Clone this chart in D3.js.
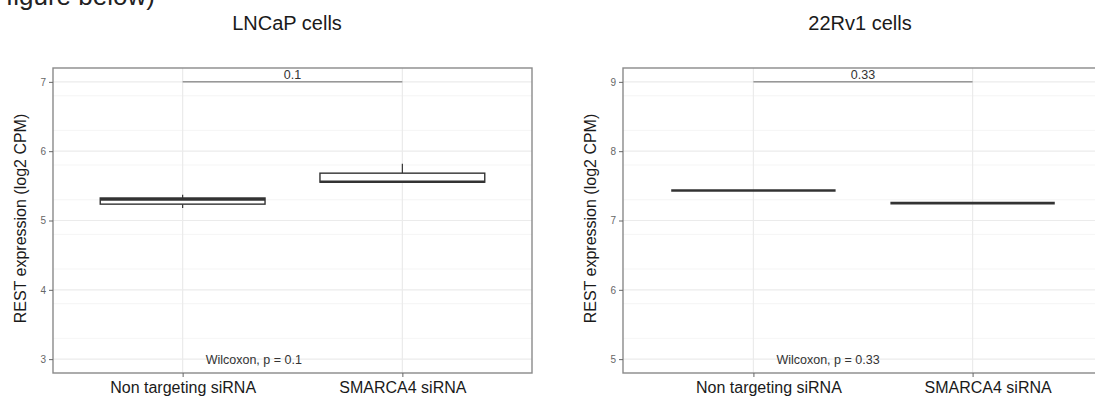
<!DOCTYPE html>
<html>
<head>
<meta charset="utf-8">
<script src="https://cdn.jsdelivr.net/npm/d3@7"></script>
<style>
  body { margin: 0; background: #fff; }
  svg { font-family: "Liberation Sans", Arial, sans-serif; }
</style>
</head>
<body>
<svg width="1095" height="408"></svg>
<script>
// groups on the x axis
const groups = ['Non targeting siRNA', 'SMARCA4 siRNA'];

// LNCaP box stats (log2 CPM)
const lncapMin = [5.18, 5.553];
const lncapQ1 = [5.236, 5.553];
const lncapMedian = [5.305, 5.56];
const lncapQ3 = [5.325, 5.683];
const lncapMax = [5.37, 5.817];

// 22Rv1 box stats (collapsed boxes)
const rvMin = [7.432, 7.25];
const rvQ1 = [7.432, 7.25];
const rvMedian = [7.432, 7.25];
const rvQ3 = [7.432, 7.25];
const rvMax = [7.432, 7.25];

const lncapTicks = [3, 4, 5, 6, 7];
const rvTicks = [5, 6, 7, 8, 9];

const svg = d3.select('svg');

// bit of document text cut off at the top
svg.append('text')
  .text('figure below)')
  .attr('x', 6)
  .attr('y', 5)
  .attr('font-size', 26)
  .attr('fill', '#222');

const drawPanel = (p) => {
  const top = 68, bottom = 373;
  const y = d3.scaleLinear().domain(p.yDomain).range([bottom, top]);
  const x = d3.scalePoint().domain(groups).range([p.left, p.right]).padding(p.pad);

  const g = svg.append('g');

  // grid: minor then major
  const minor = d3.range(p.yDomain[0], p.yDomain[1], 0.5)
    .filter(v => Math.abs(v % 1) > 0.01);
  g.selectAll('.minor').data(minor).enter().append('line')
    .attr('x1', p.left).attr('x2', p.right)
    .attr('y1', d => y(d)).attr('y2', d => y(d))
    .attr('stroke', '#f2f2f2').attr('stroke-width', 0.8);
  g.selectAll('.major').data(p.ticks).enter().append('line')
    .attr('x1', p.left).attr('x2', p.right)
    .attr('y1', d => y(d)).attr('y2', d => y(d))
    .attr('stroke', '#ebebeb').attr('stroke-width', 1.2);
  g.selectAll('.vgrid').data(groups).enter().append('line')
    .attr('x1', d => x(d)).attr('x2', d => x(d))
    .attr('y1', top).attr('y2', bottom)
    .attr('stroke', '#ebebeb').attr('stroke-width', 1.2);

  // boxes
  const boxW = x.step() * 0.75;
  const stats = groups.map((k, i) => ({
    k, min: p.min[i], q1: p.q1[i], med: p.med[i], q3: p.q3[i], max: p.max[i]
  }));
  const b = g.selectAll('.box').data(stats).enter().append('g');
  b.append('line')
    .attr('x1', d => x(d.k)).attr('x2', d => x(d.k))
    .attr('y1', d => y(d.max)).attr('y2', d => y(d.q3))
    .attr('stroke', '#333').attr('stroke-width', 1.2);
  b.append('line')
    .attr('x1', d => x(d.k)).attr('x2', d => x(d.k))
    .attr('y1', d => y(d.q1)).attr('y2', d => y(d.min))
    .attr('stroke', '#333').attr('stroke-width', 1.2);
  b.append('rect')
    .attr('x', d => x(d.k) - boxW / 2)
    .attr('width', boxW)
    .attr('y', d => y(d.q3))
    .attr('height', d => y(d.q1) - y(d.q3))
    .attr('fill', '#fff')
    .attr('stroke', '#333').attr('stroke-width', 1.4);
  b.append('line')
    .attr('x1', d => x(d.k) - boxW / 2).attr('x2', d => x(d.k) + boxW / 2)
    .attr('y1', d => y(d.med)).attr('y2', d => y(d.med))
    .attr('stroke', '#333').attr('stroke-width', 2.6);

  // comparison bracket
  const by = y(p.bracketY);
  g.append('line')
    .attr('x1', x(groups[0])).attr('x2', x(groups[1]))
    .attr('y1', by).attr('y2', by)
    .attr('stroke', '#666').attr('stroke-width', 1);
  g.append('text')
    .text(p.pLabel)
    .attr('x', (x(groups[0]) + x(groups[1])) / 2)
    .attr('y', by - 3)
    .attr('text-anchor', 'middle')
    .attr('font-size', 12.5)
    .attr('fill', '#333');

  g.append('text')
    .text('Wilcoxon, p = ' + p.pLabel)
    .attr('x', x(groups[0]) + 23)
    .attr('y', 364)
    .attr('font-size', 12.5)
    .attr('fill', '#333');

  // panel border
  g.append('rect')
    .attr('x', p.left).attr('y', top)
    .attr('width', p.right - p.left).attr('height', bottom - top)
    .attr('fill', 'none').attr('stroke', '#8a8a8a').attr('stroke-width', 1.4);

  // y axis
  const yAxisG = g.append('g')
    .attr('transform', `translate(${p.left},0)`)
    .call(d3.axisLeft(y).tickValues(p.ticks).tickFormat(d3.format('d'))
      .tickSize(4).tickPadding(3));
  yAxisG.select('.domain').remove();
  yAxisG.selectAll('line').attr('stroke', '#666');
  yAxisG.selectAll('text').attr('font-size', 10).attr('fill', '#666')
    .attr('font-family', '"Liberation Sans", Arial, sans-serif');

  // x axis
  const xAxisG = g.append('g')
    .attr('transform', `translate(0,${bottom})`)
    .call(d3.axisBottom(x).tickSize(4).tickPadding(5));
  xAxisG.select('.domain').remove();
  xAxisG.selectAll('line').attr('stroke', '#666');
  xAxisG.selectAll('text')
    .attr('font-size', 16).attr('fill', '#1a1a1a')
    .attr('dx', p.labelShift)
    .attr('font-family', '"Liberation Sans", Arial, sans-serif');

  // axis title
  g.append('text')
    .text('REST expression (log2 CPM)')
    .attr('transform', `translate(${p.yTitleX},${(top + bottom) / 2 - 2}) rotate(-90)`)
    .attr('text-anchor', 'middle')
    .attr('font-size', 16)
    .attr('fill', '#1a1a1a');

  // panel title
  svg.append('text')
    .text(p.title)
    .attr('x', p.titleX)
    .attr('y', 30)
    .attr('text-anchor', 'middle')
    .attr('font-size', 20)
    .attr('fill', '#1a1a1a');
};

drawPanel({
  title: 'LNCaP cells', titleX: 287,
  left: 53, right: 532, pad: 0.59,
  yDomain: [2.8, 7.2], ticks: lncapTicks,
  min: lncapMin, q1: lncapQ1, med: lncapMedian, q3: lncapQ3, max: lncapMax,
  bracketY: 7, pLabel: '0.1', yTitleX: 26, labelShift: 0
});

drawPanel({
  title: '22Rv1 cells', titleX: 860,
  left: 623, right: 1103, pad: 0.595,
  yDomain: [4.8, 9.2], ticks: rvTicks,
  min: rvMin, q1: rvQ1, med: rvMedian, q3: rvQ3, max: rvMax,
  bracketY: 9, pLabel: '0.33', yTitleX: 596, labelShift: 15
});
</script>
</body>
</html>
